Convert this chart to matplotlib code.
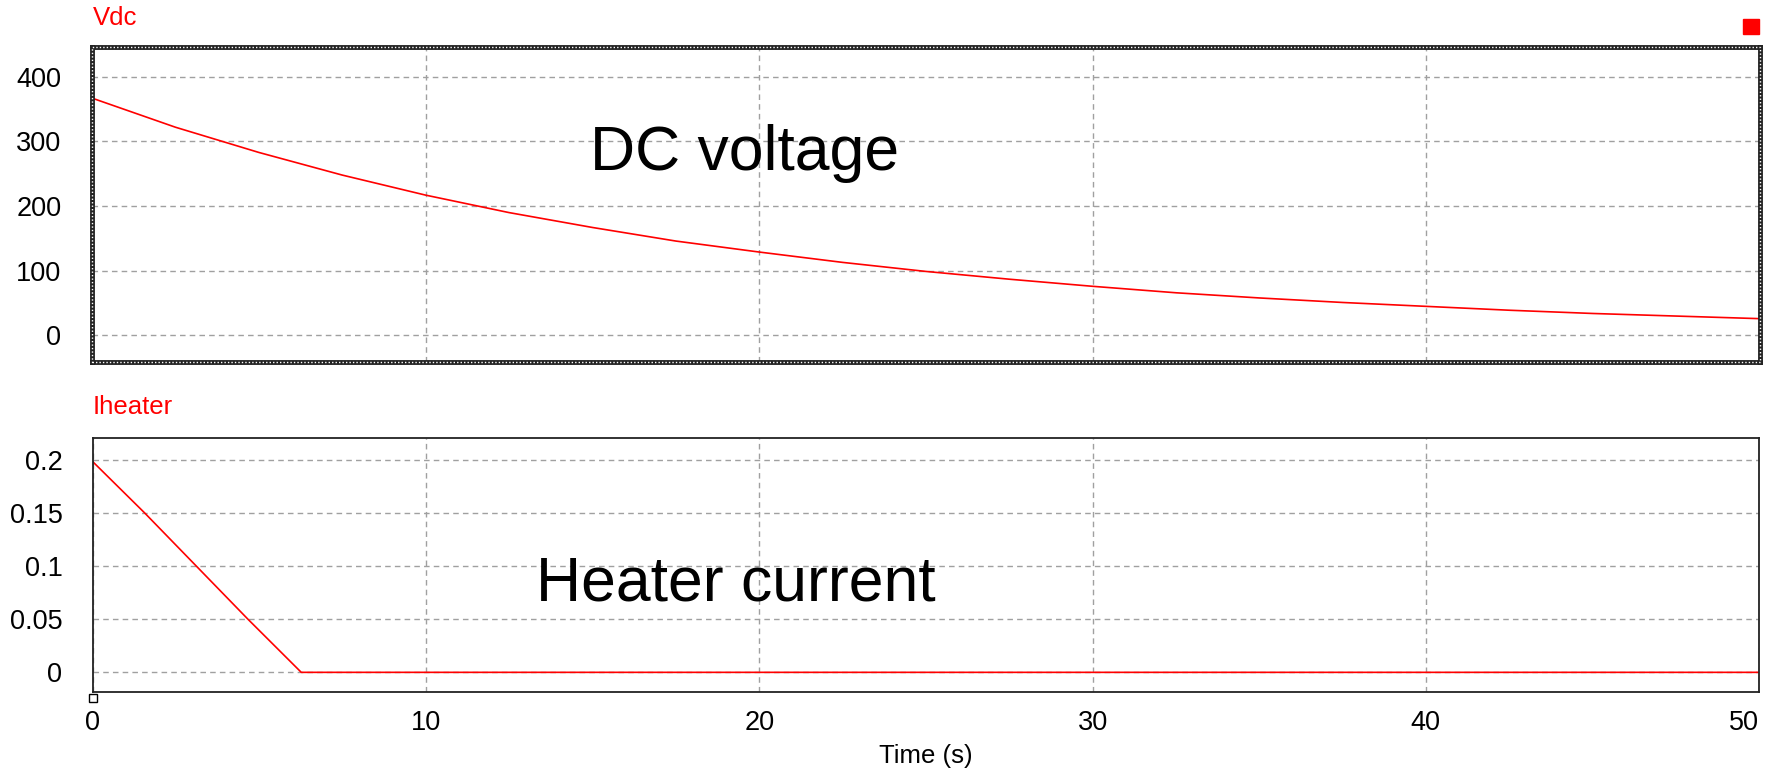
import matplotlib
matplotlib.use("Agg")
import matplotlib.pyplot as plt
import matplotlib.patches as mpatches
import matplotlib.transforms as mtrans

plt.rcParams['font.family'] = ['Liberation Sans', 'DejaVu Sans']

# data
t_vdc = [0, 2.5, 5, 7.5, 10, 12.5, 15, 17.5, 20, 22.5, 25, 27.5, 30,
         32.5, 35, 37.5, 40, 42.5, 45, 47.5, 50]
vdc = [367, 322, 283, 248, 217, 190, 167, 146, 129, 113, 99, 87, 76,
       66, 58, 51, 45, 39, 34, 30, 26]

t_ih = [0, 1.55, 3.1, 4.65, 6.25, 50]
iheater = [0.198, 0.15, 0.1, 0.05, 0.0, 0.0]

vdc_ticks = [0, 100, 200, 300, 400]
ih_ticks = [0, 0.05, 0.1, 0.15, 0.2]
ih_labels = ['0', '0.05', '0.1', '0.15', '0.2']
time_ticks = [0, 10, 20, 30, 40, 50]

W, H = 1771, 770
fig = plt.figure(figsize=(W / 100, H / 100), dpi=100)

def frac(x0, y0, x1, y1):
    return [x0 / W, 1 - y1 / H, (x1 - x0) / W, (y1 - y0) / H]

ax1 = fig.add_axes(frac(92, 47, 1760, 362))
ax2 = fig.add_axes(frac(93, 438, 1759, 692))

grid_kw = dict(color='#a0a0a0', linestyle=(0, (4, 3)), linewidth=1.0)

for ax in (ax1, ax2):
    ax.set_xlim(0, 50)
    ax.set_xticks(time_ticks)
    ax.grid(True, **grid_kw)
    ax.set_axisbelow(True)
    ax.tick_params(length=0, labelsize=19.5, pad=22)

# top panel
ax1.plot(t_vdc, vdc, color='#ff0000', lw=1.2)
ax1.set_ylim(-41, 446)
ax1.set_yticks(vdc_ticks)
ax1.tick_params(axis='x', labelbottom=False)
for s in ax1.spines.values():
    s.set_linewidth(3.5)
    s.set_color('#222222')
ax1.add_patch(mpatches.Rectangle((0, 0), 1, 1, transform=ax1.transAxes,
                                 fill=False, ec='white', lw=1.0,
                                 ls=(0, (1, 1.5)), clip_on=False, zorder=5))
ax1.text(0.391, 0.61, 'DC voltage', transform=ax1.transAxes, fontsize=45,
         ha='center', va='baseline')

# bottom panel
ax2.plot(t_ih, iheater, color='#ff0000', lw=1.2)
ax2.set_ylim(-0.0185, 0.2205)
ax2.set_yticks(ih_ticks)
ax2.set_yticklabels(ih_labels)
ax2.tick_params(axis='x', pad=13)
for s in ax2.spines.values():
    s.set_linewidth(1.3)
    s.set_color('#222222')
ax2.get_xticklabels()[-1].set_horizontalalignment('right')
ax2.set_xlabel('Time (s)', fontsize=18.5, labelpad=6)
ax2.text(0.386, 0.362, 'Heater current', transform=ax2.transAxes,
         fontsize=45, ha='center', va='baseline')

# small hollow marker below origin
off = mtrans.offset_copy(ax2.transAxes, fig=fig, x=0, y=-6, units='dots')
ax2.plot([0], [0], marker='s', ms=5.5, mfc='white', mec='black', mew=1.0,
         transform=off, clip_on=False)

# signal labels
fig.text(93 / W, 1 - 18 / H, 'Vdc', color='#ff0000', fontsize=18.5,
         ha='left', va='center')
fig.text(93 / W, 1 - 407 / H, 'Iheater', color='#ff0000', fontsize=18.5,
         ha='left', va='center')

# red square top right
fig.patches.append(mpatches.Rectangle((1743 / W, 1 - 34 / H), 16 / W, 15 / H,
                                      transform=fig.transFigure,
                                      color='#ff0000', figure=fig))

fig.savefig('out.png', dpi=100)
